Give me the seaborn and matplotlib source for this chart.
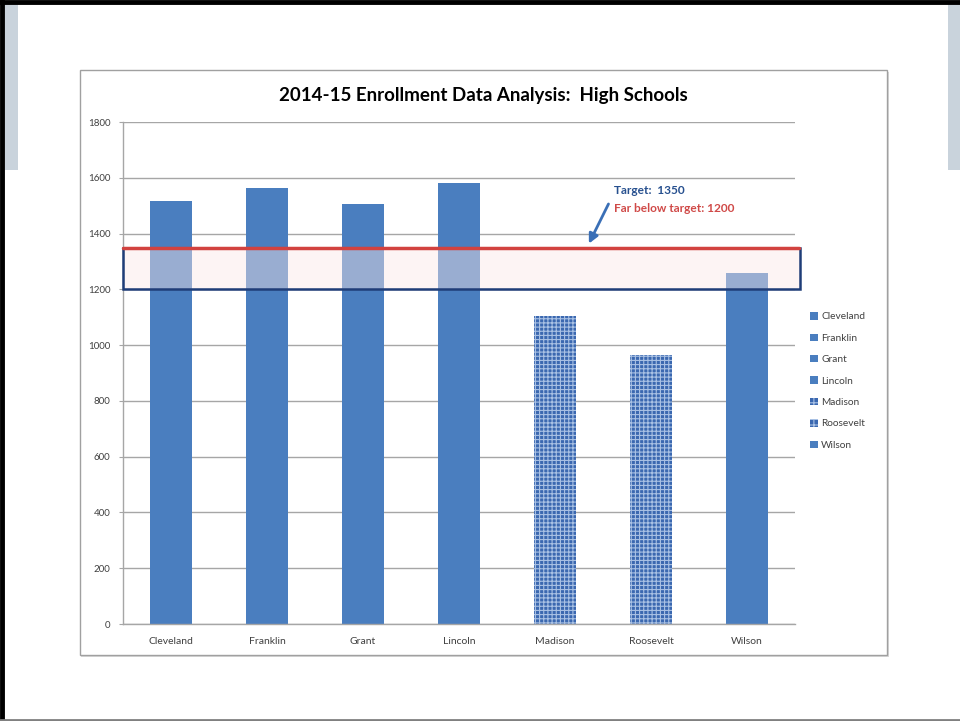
import matplotlib
matplotlib.use("Agg")
import matplotlib.pyplot as plt
import matplotlib.patches as mpatches
import matplotlib.transforms as mtransforms
import seaborn as sns
import pandas as pd

# Enrollment by high school, 2014-15
schools = ["Cleveland", "Franklin", "Grant", "Lincoln", "Madison", "Roosevelt", "Wilson"]
enrollment = [1515, 1564, 1505, 1582, 1104, 964, 1257]
textured = ["Madison", "Roosevelt"]

target = 1350
far_below = 1200
y_ticks = [0, 200, 400, 600, 800, 1000, 1200, 1400, 1600, 1800]

title = "2014-15 Enrollment Data Analysis:  High Schools"
target_label = "Target:  1350"
far_label = "Far below target: 1200"

sns.set_theme(style="white")
plt.rcParams["font.family"] = ["Lato", "DejaVu Sans"]
plt.rcParams["hatch.linewidth"] = 0.8

bar_blue = "#4a7ebf"
tex_blue = "#3b68b0"
tex_dots = "#a9c1e4"
grid_gray = "#a6a6a6"
text_gray = "#404040"

fig = plt.figure(figsize=(9.6, 7.21), dpi=100)
fig.patch.set_facecolor("white")

# slide decoration: side strips and border
W, H = 960, 721
def fr(x0, y0, x1, y1):
    return (x0 / W, 1 - y1 / H), (x1 - x0) / W, (y1 - y0) / H

for (x0, y0, x1, y1) in [(5, 4, 18, 170), (948, 4, 960, 170)]:
    xy, w, h = fr(x0, y0, x1, y1)
    fig.add_artist(mpatches.Rectangle(xy, w, h, transform=fig.transFigure,
                                      facecolor="#c9d3dc", edgecolor="none", zorder=0))
fig.add_artist(plt.Line2D([0, 1], [1 - 2 / H, 1 - 2 / H], transform=fig.transFigure,
                          color="black", lw=3.5))
fig.add_artist(plt.Line2D([2 / W, 2 / W], [0, 1], transform=fig.transFigure,
                          color="black", lw=3.5))
fig.add_artist(plt.Line2D([0, 1], [1.5 / H, 1.5 / H], transform=fig.transFigure,
                          color="#808080", lw=2))

# chart frame
xy, w, h = fr(80, 70, 887, 655)
fig.add_artist(mpatches.Rectangle((xy[0] + 1.5 / W, xy[1] - 1.5 / H), w, h,
                                  transform=fig.transFigure, facecolor="#d8d8d8",
                                  edgecolor="none", zorder=0.5))
fig.add_artist(mpatches.Rectangle(xy, w, h, transform=fig.transFigure,
                                  facecolor="white", edgecolor="#a0a0a0", lw=1, zorder=0.6))

ax = fig.add_axes([123 / W, 1 - 624 / H, (795 - 123) / W, (624 - 122) / H])
ax.set_facecolor("none")
ax.set_zorder(2)

df = pd.DataFrame({"School": schools, "Enrollment": enrollment})
sns.barplot(data=df, x="School", y="Enrollment", hue="School",
            palette=[bar_blue] * len(schools), width=0.44, saturation=1,
            legend=True, ax=ax, zorder=2)

for patch, name in zip(ax.patches, schools):
    patch.set_edgecolor("none")
    patch.set_linewidth(0)
    if name in textured:
        patch.set_facecolor(tex_blue)
        patch.set_edgecolor(tex_dots)
        patch.set_hatch("++++")
        patch.set_linewidth(0)

ax.set_ylim(0, 1800)
ax.set_xlim(-0.5, len(schools) - 0.5)
ax.set_yticks(y_ticks)
ax.set_yticklabels([str(t) for t in y_ticks], fontsize=7, color=text_gray)
ax.tick_params(axis="x", labelsize=7.5, colors=text_gray, length=0, pad=9)
ax.tick_params(axis="y", length=3, width=0.8, color=grid_gray, pad=6, left=True)
ax.set_xlabel("")
ax.set_ylabel("")
ax.yaxis.grid(True, color=grid_gray, lw=1)
ax.set_axisbelow(True)
for s in ["top", "right"]:
    ax.spines[s].set_visible(False)
for s in ["left", "bottom"]:
    ax.spines[s].set_color(grid_gray)
    ax.spines[s].set_linewidth(1)

# target band
band_tr = mtransforms.blended_transform_factory(ax.transAxes, ax.transData)
ax.add_patch(mpatches.Rectangle((0, far_below), 1.008, target - far_below,
                                transform=band_tr, facecolor="#fbe8e8", alpha=0.45,
                                edgecolor="none", zorder=3, clip_on=False))
ax.add_patch(mpatches.Rectangle((0, far_below), 1.008, target - far_below,
                                transform=band_tr, facecolor="none",
                                edgecolor="#1f3d78", lw=1.8, zorder=4, clip_on=False))
ax.plot([0, 1.006], [target, target], transform=band_tr, color="#d2423f",
        lw=2.5, zorder=5, clip_on=False)

ax.annotate("", xy=(4.34, target + 5), xytext=(4.57, 1515),
            arrowprops=dict(arrowstyle="-|>", color="#3a6fb6", lw=2,
                            mutation_scale=14), zorder=6)
ax.text(4.61, 1553, target_label, fontsize=8.6, fontweight="bold",
        color="#27508f", va="center", ha="left")
ax.text(4.61, 1490, far_label, fontsize=8.6, fontweight="bold",
        color="#d04a48", va="center", ha="left")

fig.text(483 / W, 1 - 96 / H, title, fontsize=13.5, fontweight="bold",
         color="black", ha="center", va="center")

# legend
leg = ax.legend(loc="center left", bbox_to_anchor=(806 / W, 1 - 381 / H),
                bbox_transform=fig.transFigure, frameon=False, fontsize=7.3,
                labelspacing=1.2, handlelength=0.75, handleheight=0.75,
                handletextpad=0.35, borderaxespad=0)
for txt in leg.get_texts():
    txt.set_color(text_gray)
for handle, name in zip(leg.legend_handles, schools):
    handle.set_facecolor(bar_blue)
    handle.set_edgecolor("none")
    if name in textured:
        handle.set_facecolor(tex_blue)
        handle.set_edgecolor(tex_dots)
        handle.set_hatch("+++")
        handle.set_linewidth(0)

fig.savefig("out.png", dpi=100)
